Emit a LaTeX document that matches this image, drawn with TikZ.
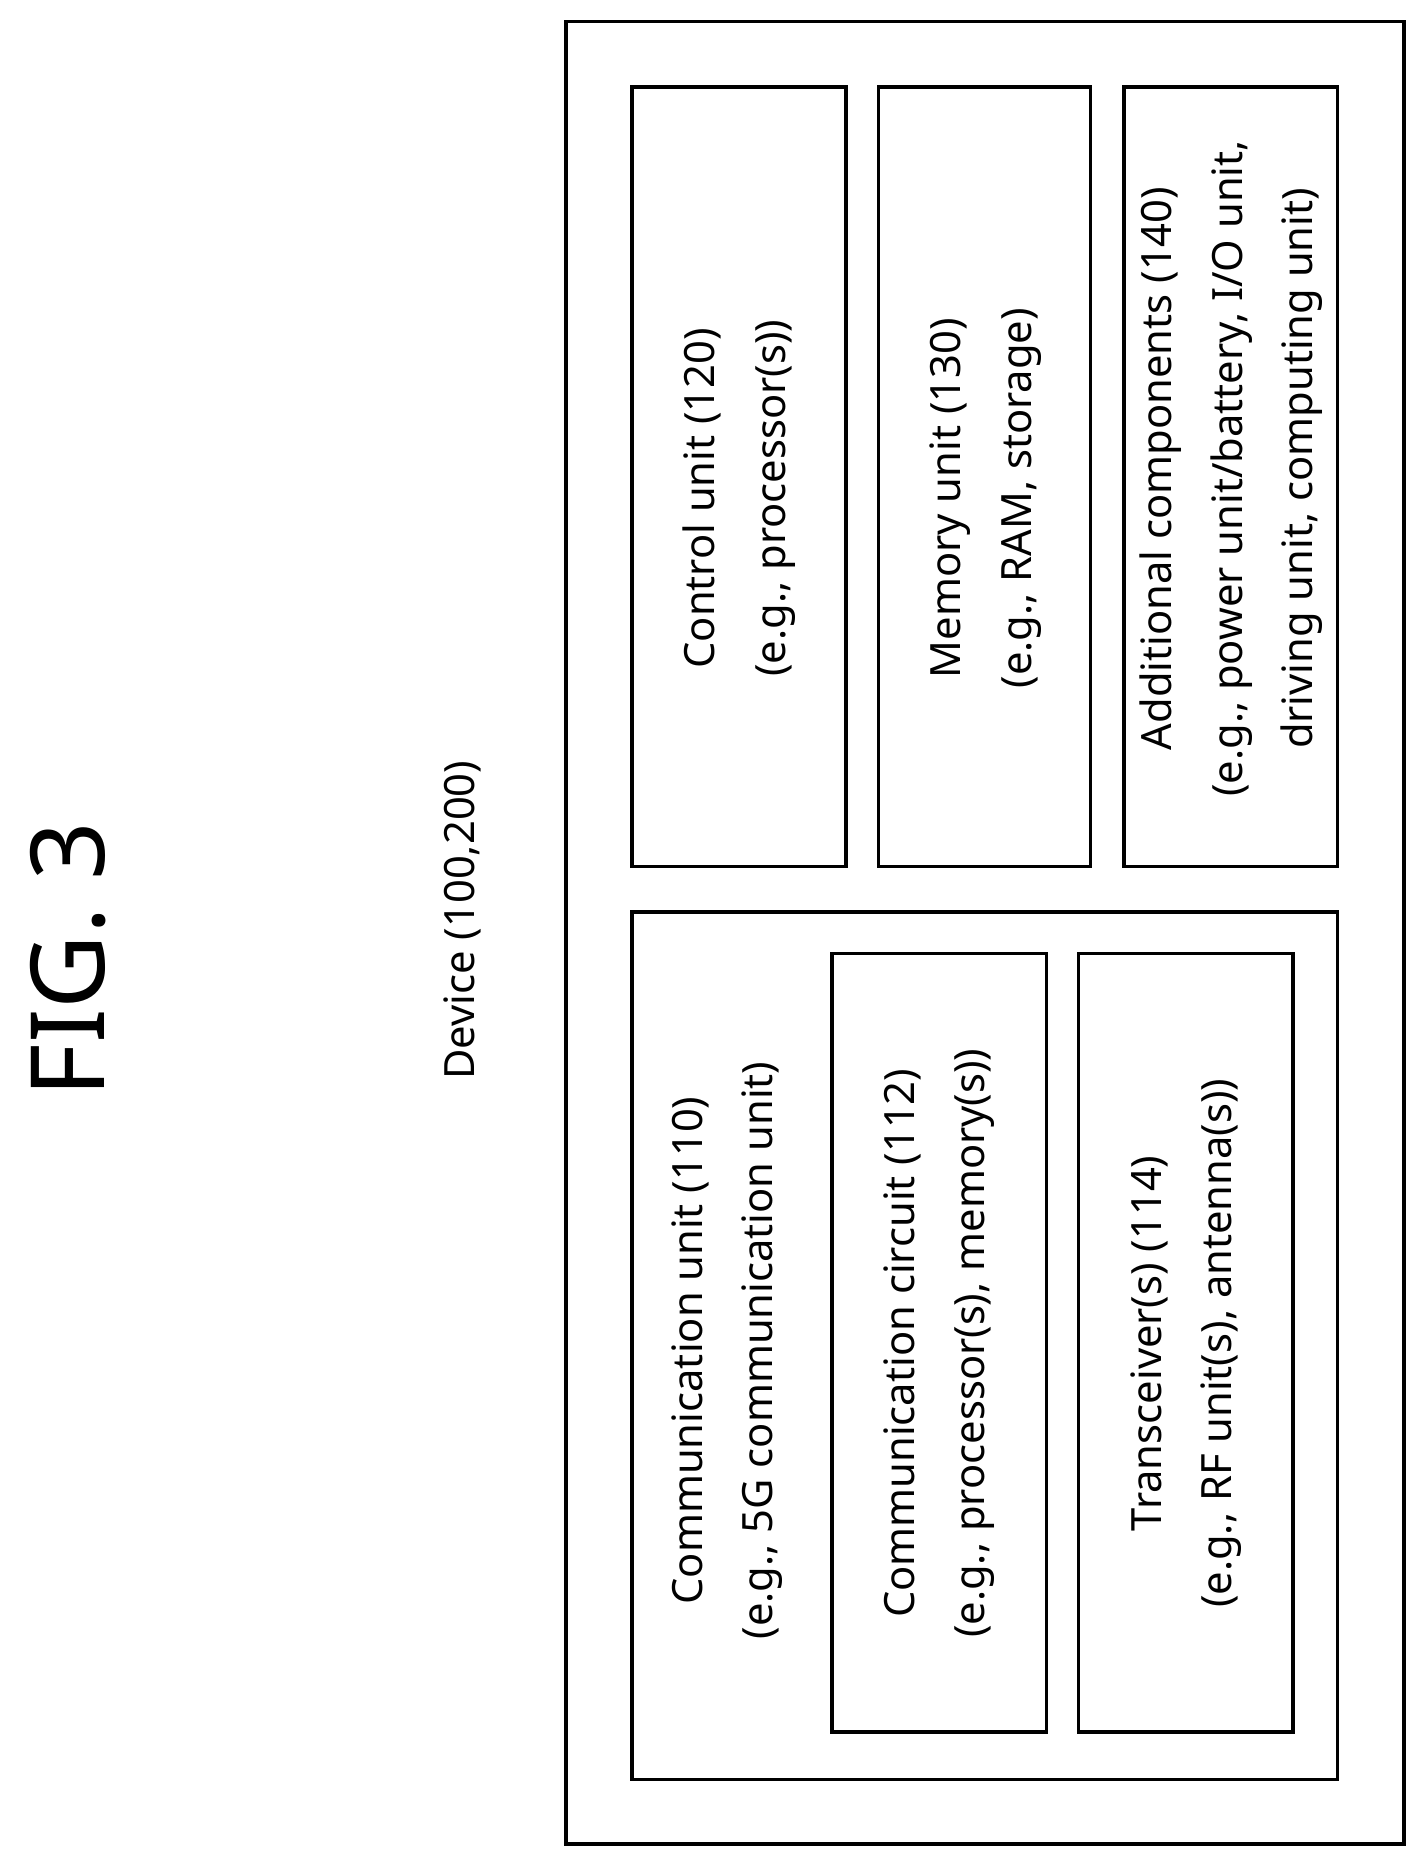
\documentclass[tikz,border=0pt]{standalone}
\usepackage{fontspec}
\setmainfont{Noto Sans}
\begin{document}
\begin{tikzpicture}[x=1pt,y=-1pt,
  box/.style={draw,line width=3pt},
  lbl/.style={rotate=90,align=center,font=\fontsize{35}{59}\selectfont,inner sep=0pt}]
\useasboundingbox[fill=white] (0,0) rectangle (1190,1558);
\node[rotate=90,font=\fontsize{86}{90}\selectfont,inner sep=0pt] (fig) at (57,805) {FIG. 3};
\node[lbl] (dev) at (388,772) {Device (100,200)};
\draw[box] (475,18) rectangle (1178,1547);
\draw[box] (530,73) rectangle (710,727);
\node[lbl] (c) at (620,418) {Control unit (120)\\(e.g., processor(s))};
\draw[box] (737,73) rectangle (915,727);
\node[lbl] (m) at (827,418) {Memory unit (130)\\(e.g., RAM, storage)};
\draw[box] (943,73) rectangle (1122,727);
\node[lbl] (a) at (1033,393) {Additional components (140)\\(e.g., power unit/battery, I/O unit,\\driving unit, computing unit)};
\draw[box] (530,765) rectangle (1122,1493);
\node[lbl] (cu) at (610,1133) {Communication unit (110)\\(e.g., 5G communication unit)};
\draw[box] (698,800) rectangle (878,1453);
\node[lbl] (cc) at (788,1127) {Communication circuit (112)\\(e.g., processor(s), memory(s))};
\draw[box] (905,800) rectangle (1085,1453);
\node[lbl] (t) at (995,1127) {Transceiver(s) (114)\\(e.g., RF unit(s), antenna(s))};
\end{tikzpicture}
\end{document}
